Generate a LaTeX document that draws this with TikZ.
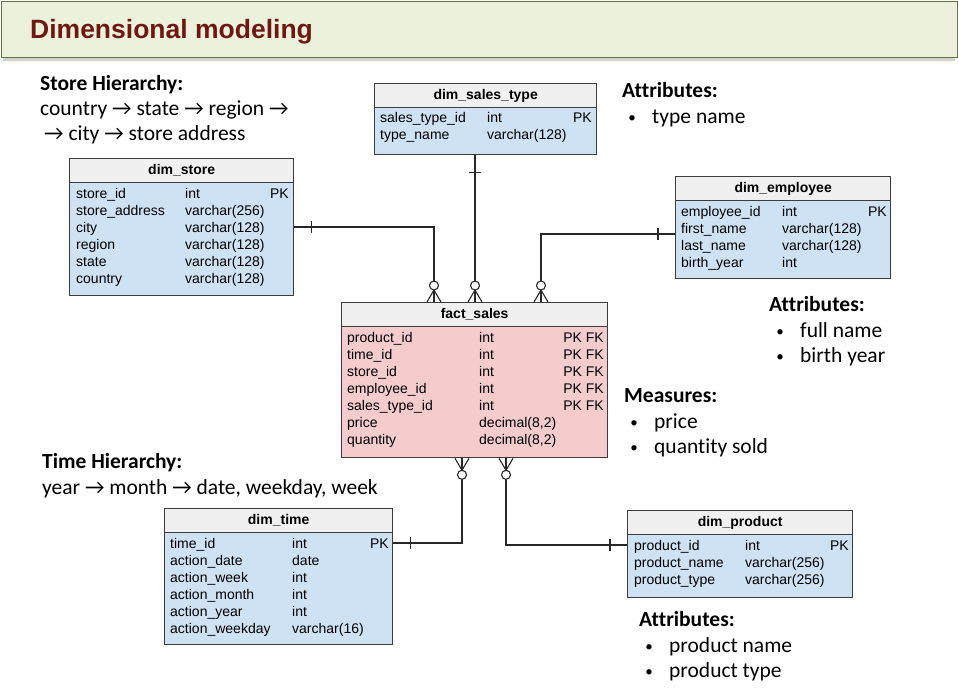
\documentclass[tikz,border=0pt]{standalone}
\usepackage{fontspec}
\setmainfont{Liberation Sans}
\newfontfamily\calfont[Ligatures=NoCommon]{Carlito}
\usetikzlibrary{calc}
\definecolor{titlefill}{RGB}{235,241,221}
\definecolor{titleborder}{RGB}{100,115,70}
\definecolor{titletext}{RGB}{110,25,15}
\definecolor{tblue}{RGB}{207,226,243}
\definecolor{tpink}{RGB}{244,204,204}
\definecolor{thdr}{RGB}{240,240,240}
\definecolor{tedge}{RGB}{60,60,60}
\definecolor{connc}{RGB}{40,40,40}
\newcommand\annfont{\calfont\fontsize{21.5}{25}\selectfont}
\newcommand\cellfont{\fontsize{14}{16}\selectfont}
\tikzset{
  tbox/.style={draw=tedge, line width=1.3pt, anchor=north west, inner sep=0},
  thead/.style={draw=tedge, line width=1.3pt, fill=thdr, anchor=north west, inner sep=0, minimum height=24, font=\cellfont\bfseries},
  cell/.style={anchor=base west, inner sep=0, font=\cellfont},
  cellr/.style={anchor=base east, inner sep=0, font=\cellfont},
  ann/.style={anchor=base west, inner sep=0, font=\annfont},
  annb/.style={ann, font=\annfont\bfseries},
  bul/.style={anchor=base, inner sep=0, font=\calfont\fontsize{15}{15}\selectfont},
  connl/.style={draw=connc, line width=1.1pt},
  crowfoot/.pic={\draw[connl] (-7,0) -- (0,-12) -- (7,0) (0,0) -- (0,-12);
                 \draw[connl, fill=white] (0,-16.5) circle (4.5);},
  onebar/.pic={\draw[connl] (-6,-17) -- (6,-17);}
}
\begin{document}
\begin{tikzpicture}[x=1pt,y=-1pt]
\useasboundingbox (0,0) rectangle (958,693);
\fill[white] (0,0) rectangle (958,693);
% title
\fill[black!18] (3,5) rectangle (955,61);
\node[draw=titleborder, line width=1.2pt, fill=titlefill, anchor=north west, minimum width=956, minimum height=56, inner sep=0] (title) at (1,1) {};
\node[anchor=base west, inner sep=0, text=titletext, font=\fontsize{26.5}{30}\selectfont\bfseries] (titletxt) at (30,39) {Dimensional modeling};

% dim_sales_type
\node[tbox, fill=tblue, minimum width=222, minimum height=71] (stype) at (374,83) {};
\node[thead, minimum width=222] (stype-h) at (374,83) {dim\_sales\_type};
\foreach \n/\t/\k [count=\i] in {sales\_type\_id/int/PK, type\_name/varchar(128)/}{
  \node[cell] (stype-\i) at (380,{122+17*(\i-1)}) {\n};
  \node[cell] (stype-t\i) at (487,{122+17*(\i-1)}) {\t};
  \node[cellr] (stype-k\i) at (592,{122+17*(\i-1)}) {\k};
}

% dim_store
\node[tbox, fill=tblue, minimum width=224, minimum height=137] (store) at (69,158) {};
\node[thead, minimum width=224] (store-h) at (69,158) {dim\_store};
\foreach \n/\t/\k [count=\i] in {store\_id/int/PK, store\_address/varchar(256)/, city/varchar(128)/, region/varchar(128)/, state/varchar(128)/, country/varchar(128)/}{
  \node[cell] (store-\i) at (76,{198+17*(\i-1)}) {\n};
  \node[cell] (store-t\i) at (185,{198+17*(\i-1)}) {\t};
  \node[cellr] (store-k\i) at (289,{198+17*(\i-1)}) {\k};
}

% dim_employee
\node[tbox, fill=tblue, minimum width=215, minimum height=102] (emp) at (675,176) {};
\node[thead, minimum width=215] (emp-h) at (675,176) {dim\_employee};
\foreach \n/\t/\k [count=\i] in {employee\_id/int/PK, first\_name/varchar(128)/, last\_name/varchar(128)/, birth\_year/int/}{
  \node[cell] (emp-\i) at (681,{216+17*(\i-1)}) {\n};
  \node[cell] (emp-t\i) at (782,{216+17*(\i-1)}) {\t};
  \node[cellr] (emp-k\i) at (887,{216+17*(\i-1)}) {\k};
}

% fact_sales
\node[tbox, fill=tpink, minimum width=266, minimum height=155] (fact) at (341,302) {};
\node[thead, minimum width=266] (fact-h) at (341,302) {fact\_sales};
\foreach \n/\t/\k [count=\i] in {product\_id/int/PK FK, time\_id/int/PK FK, store\_id/int/PK FK, employee\_id/int/PK FK, sales\_type\_id/int/PK FK, price/{decimal(8,2)}/, quantity/{decimal(8,2)}/}{
  \node[cell] (fact-\i) at (347,{342+17*(\i-1)}) {\n};
  \node[cell] (fact-t\i) at (479,{342+17*(\i-1)}) {\t};
  \node[cellr] (fact-k\i) at (604,{342+17*(\i-1)}) {\k};
}

% dim_time
\node[tbox, fill=tblue, minimum width=228, minimum height=136] (time) at (164,508) {};
\node[thead, minimum width=228] (time-h) at (164,508) {dim\_time};
\foreach \n/\t/\k [count=\i] in {time\_id/int/PK, action\_date/date/, action\_week/int/, action\_month/int/, action\_year/int/, action\_weekday/varchar(16)/}{
  \node[cell] (time-\i) at (170,{548+17*(\i-1)}) {\n};
  \node[cell] (time-t\i) at (292,{548+17*(\i-1)}) {\t};
  \node[cellr] (time-k\i) at (389,{548+17*(\i-1)}) {\k};
}

% dim_product
\node[tbox, fill=tblue, minimum width=225, minimum height=87] (prod) at (627,510) {};
\node[thead, minimum width=225] (prod-h) at (627,510) {dim\_product};
\foreach \n/\t/\k [count=\i] in {product\_id/int/PK, product\_name/varchar(256)/, product\_type/varchar(256)/}{
  \node[cell] (prod-\i) at (634,{550+17*(\i-1)}) {\n};
  \node[cell] (prod-t\i) at (745,{550+17*(\i-1)}) {\t};
  \node[cellr] (prod-k\i) at (849,{550+17*(\i-1)}) {\k};
}

% connector anchor points on fact_sales
\coordinate (f1) at ($(fact.north west)+(93,0)$);
\coordinate (f2) at ($(fact.north west)+(134,0)$);
\coordinate (f3) at ($(fact.north west)+(200,0)$);
\coordinate (f4) at ($(fact.south west)+(121,0)$);
\coordinate (f5) at ($(fact.south west)+(165,0)$);
\coordinate (cs) at ($(store.north east)+(0,69)$);
\coordinate (ce) at ($(emp.north west)+(0,58)$);
\coordinate (ct) at ($(time.north east)+(0,35)$);
\coordinate (cp) at ($(prod.north west)+(0,35)$);

% connectors
\draw[connl] (cs) -| (f1);
\draw[connl] (f2 |- stype.south) -- (f2);
\draw[connl] (ce) -| (f3);
\draw[connl] (f4) |- (ct);
\draw[connl] (f5) |- (cp);

% crow's feet
\pic at (f1) {crowfoot};
\pic at (f2) {crowfoot};
\pic at (f3) {crowfoot};
\pic[rotate=180] at (f4) {crowfoot};
\pic[rotate=180] at (f5) {crowfoot};
% one bars
\pic[rotate=-90] at (cs) {onebar};
\pic[rotate=180] at (f2 |- stype.south) {onebar};
\pic[rotate=90] at (ce) {onebar};
\pic[rotate=-90] at (ct) {onebar};
\pic[rotate=90] at (cp) {onebar};

% annotations
\node[annb] (sh) at (40,90) {Store Hierarchy:};
\node[ann] (sh1) at (40,115.5) {country → state → region →};
\node[ann] (sh2) at (44,140.5) {→ city → store address};

\node[annb] (a1) at (622,97) {Attributes:};
\node[bul] (a1d) at (632,122) {•};
\node[ann] (a1b) at (652,123) {type name};

\node[annb] (a2) at (769,311) {Attributes:};
\node[bul] (a2d) at (780,336) {•};
\node[ann] (a2b) at (800,337) {full name};
\node[bul] (a2e) at (780,361) {•};
\node[ann] (a2c) at (800,362) {birth year};

\node[annb] (m) at (624,402) {Measures:};
\node[bul] (m1d) at (634,427) {•};
\node[ann] (m1) at (654,428) {price};
\node[bul] (m2d) at (634,452) {•};
\node[ann] (m2) at (654,453) {quantity sold};

\node[annb] (th) at (42,468) {Time Hierarchy:};
\node[ann] (th1) at (42,494) {year → month → date, weekday, week};

\node[annb] (a3) at (639,626) {Attributes:};
\node[bul] (a3d) at (649,651) {•};
\node[ann] (a3b) at (669,652) {product name};
\node[bul] (a3e) at (649,676) {•};
\node[ann] (a3c) at (669,677) {product type};
\end{tikzpicture}
\end{document}
